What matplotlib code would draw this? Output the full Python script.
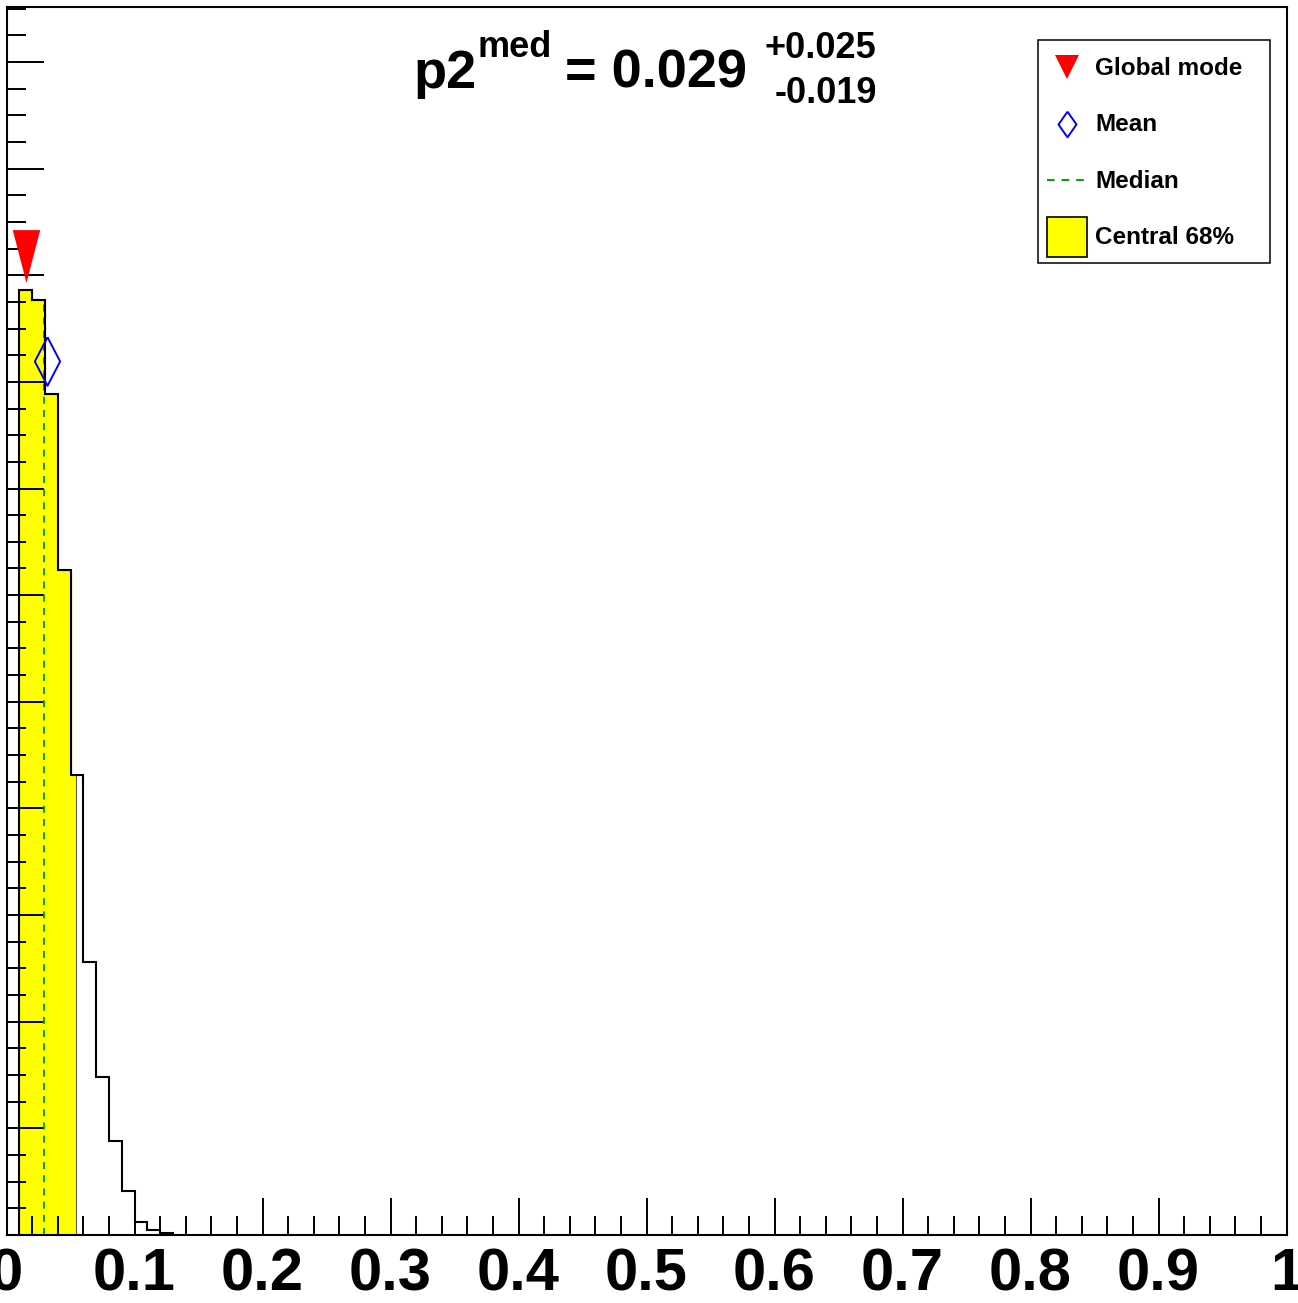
#!/usr/bin/env python3
import matplotlib
matplotlib.use('Agg')
import matplotlib.pyplot as plt
import numpy as np
from matplotlib.legend_handler import HandlerLine2D
from matplotlib.lines import Line2D
from matplotlib.patches import Patch, Rectangle
from matplotlib.ticker import MultipleLocator

plt.rcParams['font.family'] = ['Liberation Sans', 'DejaVu Sans']
plt.rcParams['font.weight'] = 'bold'
plt.rcParams['lines.scale_dashes'] = False

# marginalized posterior of p2, bin width 0.01 (arbitrary units)
bin_edges = [0.01, 0.02, 0.03, 0.04, 0.05, 0.06, 0.07, 0.08, 0.09, 0.10,
             0.11, 0.12, 0.13]
bin_values = [8.865, 8.771, 7.889, 6.232, 4.315, 2.561, 1.485, 0.882, 0.416,
              0.119, 0.047, 0.02]

median = 0.029
err_up = 0.025
err_down = 0.019
mean = 0.032
mode = 0.015
mode_marker_y = 9.18
mean_marker_y = 8.20

xtick_values = [0.0, 0.1, 0.2, 0.3, 0.4, 0.5, 0.6, 0.7, 0.8, 0.9, 1.0]
xtick_labels = ['0', '0.1', '0.2', '0.3', '0.4', '0.5', '0.6', '0.7', '0.8', '0.9', '1']

W, H = 1298, 1303


def fig_xy(x, y):
    return x / W, 1 - y / H


class CenteredLine(HandlerLine2D):
    # put line/marker handles on the same centre as the patch handle
    def create_artists(self, legend, orig_handle, xdescent, ydescent,
                       width, height, fontsize, trans):
        return super().create_artists(legend, orig_handle, xdescent,
                                      2 * ydescent, width, height,
                                      fontsize, trans)


def main() -> None:
    edges = np.array(bin_edges)
    vals = np.array(bin_values)

    lo = median - err_down
    hi = median + err_up
    inner = edges[(edges > lo + 1e-9) & (edges < hi - 1e-9)]
    band_edges = np.concatenate([[lo], inner, [hi]])
    band_idx = np.searchsorted(edges, band_edges[:-1] + 1e-9, side='right') - 1
    band_vals = vals[band_idx]
    med_height = vals[np.searchsorted(edges, median, side='right') - 1]

    fig = plt.figure(figsize=(W / 100, H / 100), dpi=100)
    ax = fig.add_axes([6.5 / W, 1 - 1235 / H, 1280 / W, 1228.5 / H])

    ax.stairs(band_vals, band_edges, fill=True, facecolor='#ffff00',
              edgecolor='#606060', linewidth=0.8, zorder=1)
    ax.plot([median, median], [0, med_height], color='#00a000', lw=1.4,
            ls=(0, (5, 4.5)), zorder=2)
    ax.stairs(vals, edges, color='black', linewidth=1.5, zorder=2.2)

    tri = [(-0.26, 0.5), (0.26, 0.5), (0.0, -0.5)]
    dia = [(0.0, 0.5), (0.26, 0.0), (0.0, -0.5), (-0.26, 0.0), (0.0, 0.5)]
    ax.plot([mode], [mode_marker_y], marker=tri, color='red', ms=38, mew=0,
            ls='none', zorder=3)
    ax.plot([mean], [mean_marker_y], marker=dia, mfc='none', mec='blue',
            ms=35, mew=1.4, ls='none', zorder=3)

    ax.set_xlim(0, 1)
    ax.set_ylim(0, 11.52)
    ax.set_xticks(xtick_values)
    ax.set_xticklabels(xtick_labels)
    ax.xaxis.set_minor_locator(MultipleLocator(0.02))
    ax.yaxis.set_major_locator(MultipleLocator(1))
    ax.yaxis.set_minor_locator(MultipleLocator(0.25))
    ax.tick_params(axis='both', which='both', direction='in', top=False,
                   right=False, width=1.4)
    ax.tick_params(axis='both', which='major', length=26.5)
    ax.tick_params(axis='both', which='minor', length=13.5)
    ax.tick_params(axis='x', labelsize=43, pad=9)
    ax.tick_params(axis='y', labelleft=False)
    for lab in ax.get_xticklabels():
        lab.set_fontweight('bold')
    for sp in ax.spines.values():
        sp.set_linewidth(1.5)

    leg_dia = [(0.0, 0.5), (0.35, 0.0), (0.0, -0.5), (-0.35, 0.0), (0.0, 0.5)]
    handles = [
        Line2D([], [], marker='v', color='red', ls='none', ms=17, mew=0),
        Line2D([], [], marker=leg_dia, mfc='none', mec='blue', ls='none',
               ms=18.5, mew=1.4),
        Line2D([], [], color='#00a000', lw=1.4, ls=(0, (5.5, 5))),
        Patch(facecolor='#ffff00', edgecolor='black', linewidth=1.2),
    ]
    labels = ['Global mode', 'Mean', 'Median', 'Central 68%']
    ax.legend(handles, labels, loc='upper left',
              bbox_to_anchor=((1047 - 6.5) / 1280, (1235 - 47) / 1228.5),
              frameon=False, handlelength=1.65,
              handleheight=2.155, handletextpad=0.33, labelspacing=0.68,
              borderpad=0, borderaxespad=0,
              handler_map={Line2D: CenteredLine()},
              prop={'weight': 'bold', 'size': 17.5})
    ax.add_patch(Rectangle(((1038 - 6.5) / 1280, (1235 - 263) / 1228.5),
                           (1270 - 1038) / 1280, (263 - 40) / 1228.5,
                           transform=ax.transAxes, fill=False,
                           edgecolor='black', linewidth=1.1, zorder=5))

    big, small = 39, 26
    fig.text(*fig_xy(413, 88), 'p2', fontsize=big, fontweight='bold',
             ha='left', va='baseline')
    fig.text(*fig_xy(478, 57), 'med', fontsize=small, fontweight='bold',
             ha='left', va='baseline')
    fig.text(*fig_xy(565, 88), f'= {median:.3f}', fontsize=big,
             fontweight='bold', ha='left', va='baseline')
    fig.text(*fig_xy(876, 58), f'+{err_up:.3f}', fontsize=small,
             fontweight='bold', ha='right', va='baseline')
    fig.text(*fig_xy(877, 103), f'-{err_down:.3f}', fontsize=small,
             fontweight='bold', ha='right', va='baseline')

    fig.savefig('out.png', dpi=100)
    plt.close(fig)


if __name__ == '__main__':
    main()
